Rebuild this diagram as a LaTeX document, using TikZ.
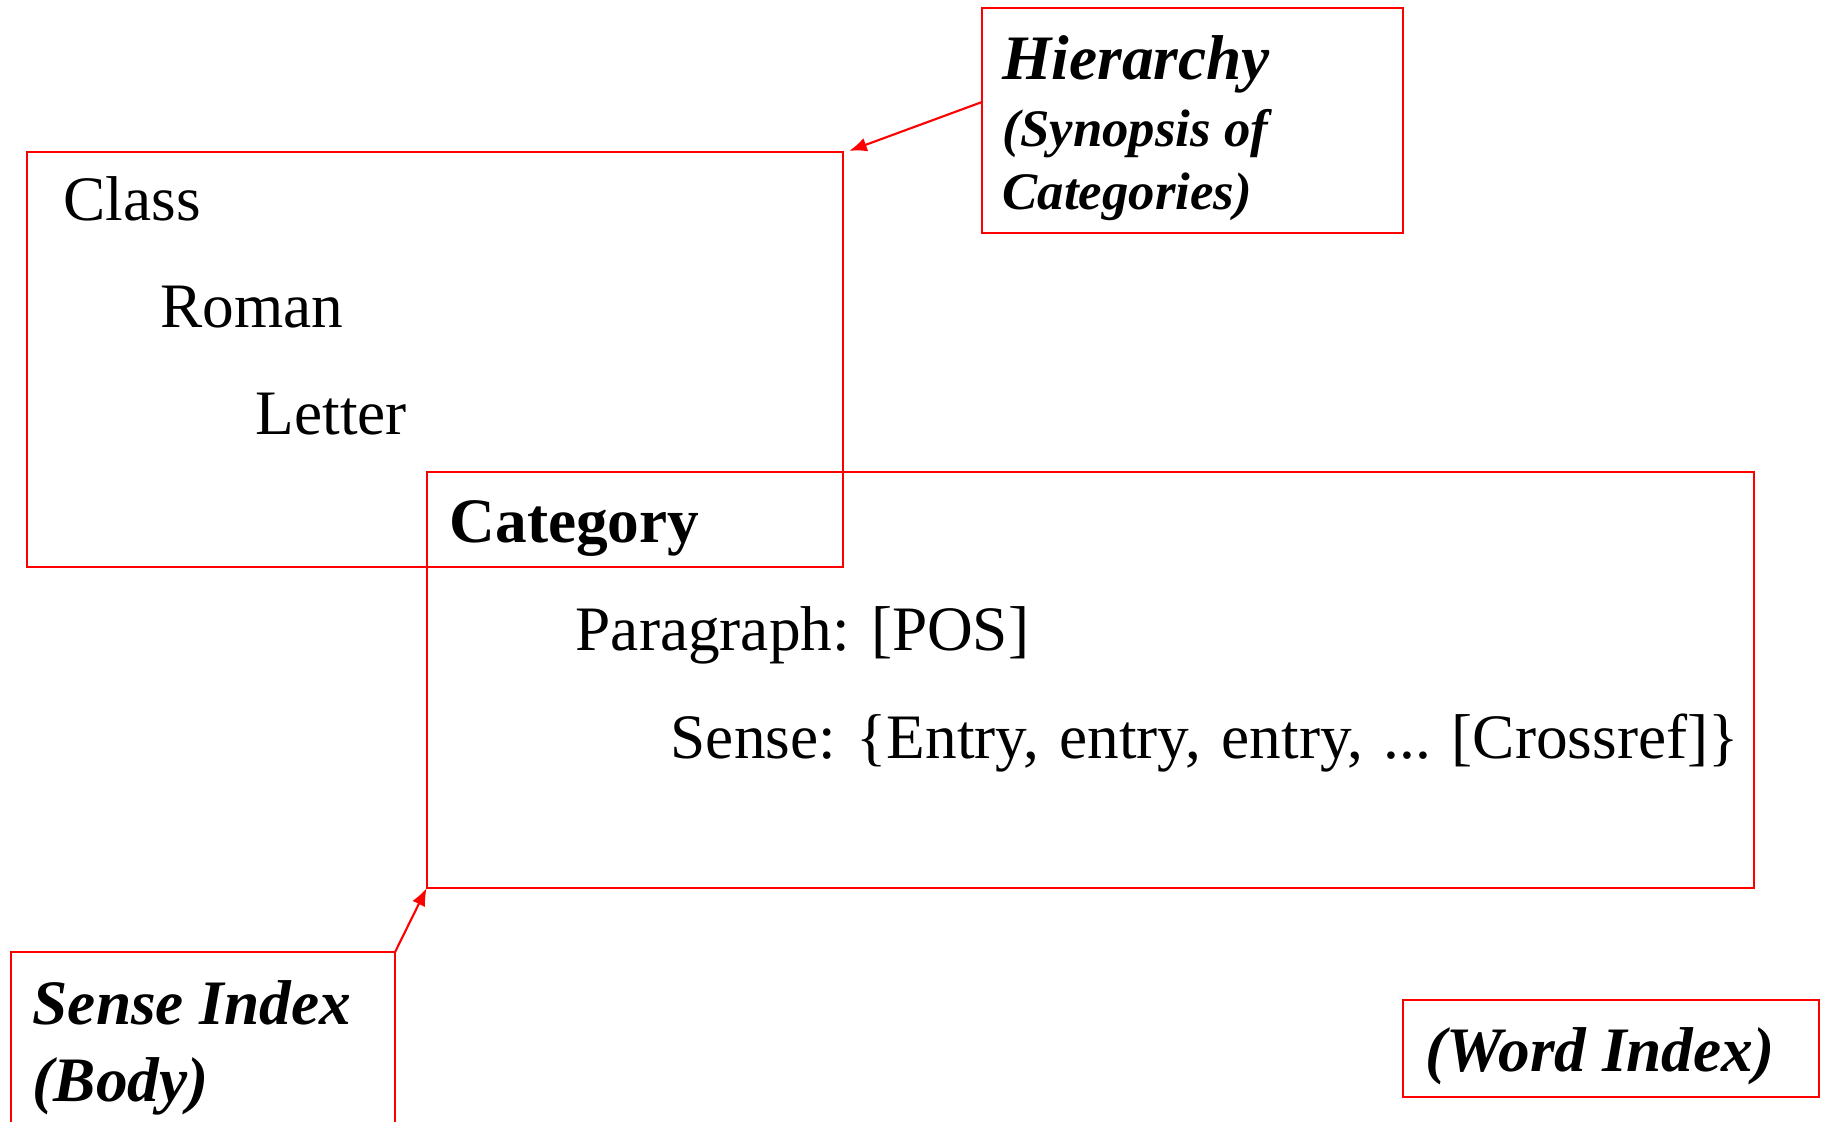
\documentclass[tikz,border=0pt]{standalone}
\usepackage{fontspec}
\setmainfont{Liberation Serif}
\usetikzlibrary{arrows.meta}

\begin{document}
\begin{tikzpicture}[x=0.01cm, y=-0.01cm,
    frame/.style={draw=red, line width=0.6pt, inner sep=0pt, outer sep=0pt},
    txt/.style={anchor=base west, inner sep=0pt, font=\fontsize{18}{22}\selectfont},
    bitxt/.style={txt, font=\fontsize{18}{22}\selectfont\bfseries\itshape},
    subtxt/.style={txt, font=\fontsize{15}{18}\selectfont\bfseries\itshape},
    pointer/.style={draw=red, line width=0.6pt, -{Latex[length=5pt, width=4pt]}}]
    \useasboundingbox (0,0) rectangle (1828,1122);
    % boxes
    \node[frame, minimum width=4.21cm, minimum height=2.25cm] (hier) at (1192.5,120.5) {};
    \node[frame, minimum width=8.16cm, minimum height=4.15cm] (classbox) at (435,359.5) {};
    \node[frame, minimum width=13.27cm, minimum height=4.16cm] (catbox) at (1090.5,680) {};
    \node[frame, minimum width=3.84cm, minimum height=2.2cm] (sensebox) at (203,1062) {};
    \node[frame, minimum width=4.16cm, minimum height=0.97cm] (wordbox) at (1611,1048.5) {};
    % texts
    \node[txt] (class) at (63,221) {Class};
    \node[txt] (roman) at (160,328) {Roman};
    \node[txt] (letter) at (255,435) {Letter};
    \node[txt, font=\fontsize{18}{22}\selectfont\bfseries] (category) at (449,542) {Category};
    \node[txt] (paragraph) at (575,650) {Paragraph: [POS]};
    \node[txt] (sense) at (670,758) {\spaceskip=5.8pt\xspaceskip=5.8pt Sense: \{Entry, entry, entry, ... [Crossref]\}};
    \node[bitxt] (hiertitle) at (1002,80) {Hierarchy};
    \node[subtxt] (synopsis) at (1002,147) {(Synopsis of};
    \node[subtxt] (categories) at (1002,210) {Categories)};
    \node[bitxt] (senseindex) at (32,1024) {Sense Index};
    \node[bitxt] (body) at (32,1101) {(Body)};
    \node[bitxt] (wordindex) at (1425,1071) {(Word Index)};
    % arrows
    \coordinate (hierto) at ([xshift=0.06cm, yshift=0.01cm]classbox.north east);
    \draw[pointer] (hier.175.5) -- (hierto);
    \draw[pointer] (sensebox.north east) -- (catbox.south west);
\end{tikzpicture}
\end{document}
